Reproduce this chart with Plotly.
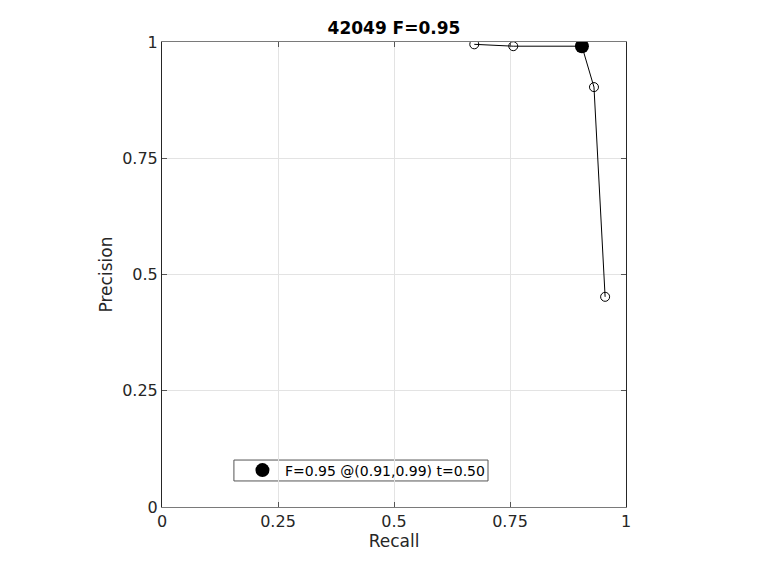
import plotly.graph_objects as go

recall = [0.673, 0.757, 0.905, 0.931, 0.955]
precision = [0.995, 0.991, 0.991, 0.903, 0.452]
best_recall = [0.905]
best_precision = [0.991]
best_label = "F=0.95 @(0.91,0.99) t=0.50"
title_text = "42049 F=0.95"
tick_vals = [0, 0.25, 0.5, 0.75, 1]
tick_text = ["0", "0.25", "0.5", "0.75", "1"]

fig = go.Figure()
fig.add_trace(go.Scatter(
    x=recall, y=precision, mode="lines+markers",
    line=dict(color="black", width=1),
    marker=dict(symbol="circle-open", size=9, color="black", line=dict(width=1)),
    showlegend=False, hoverinfo="skip"))
fig.add_trace(go.Scatter(
    x=best_recall, y=best_precision, mode="markers",
    marker=dict(symbol="circle", size=14, color="black"),
    name=best_label, showlegend=True))

font = "DejaVu Sans, sans-serif"
axis_common = dict(
    range=[0, 1], tickvals=tick_vals, ticktext=tick_text,
    showgrid=True, gridcolor="#e3e3e3", gridwidth=1,
    ticks="inside", ticklen=5, tickcolor="#555555",
    showline=True, mirror="ticks", zeroline=False,
    tickfont=dict(family=font, size=16, color="#262626"),
)
fig.update_layout(
    width=760, height=570,
    margin=dict(l=154, r=142, t=34, b=71),
    paper_bgcolor="white", plot_bgcolor="white",
    title=dict(text="<b>" + title_text + "</b>", x=0.5, xref="paper", xanchor="center",
               y=1 - 20 / 570, yref="container", yanchor="middle",
               font=dict(family=font, size=17, color="black")),
    xaxis=dict(**axis_common, linecolor="#7a7a7a", linewidth=1,
               title=dict(text="Recall", font=dict(family=font, size=17, color="#262626"), standoff=4)),
    yaxis=dict(**axis_common, linecolor="#262626", linewidth=1,
               title=dict(text="Precision", font=dict(family=font, size=17, color="#262626"), standoff=5)),
    legend=dict(x=0.168, y=0.0785, xanchor="left", yanchor="middle",
                bgcolor="rgba(0,0,0,0)", borderwidth=0,
                font=dict(family=font, size=14, color="black"),
                tracegroupgap=0, itemwidth=35),
    shapes=[dict(type="rect", xref="paper", yref="paper",
                 x0=0.155, x1=0.7026, y0=0.056, y1=0.101,
                 line=dict(color="#555555", width=1), fillcolor="white", layer="below")],
)
fig.write_html("out.html")
